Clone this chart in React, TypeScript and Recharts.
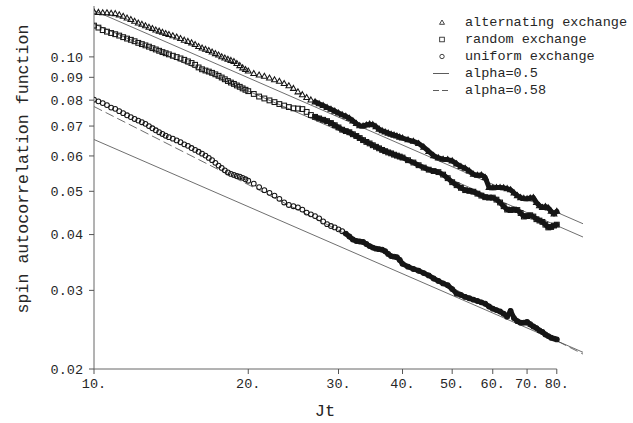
import { ComposedChart, Line, XAxis, YAxis, Legend, ReferenceLine } from 'recharts'

const FONT = '"Liberation Mono", "DejaVu Sans Mono", monospace'
const INK = '#161616'
const FIT = '#4a4a4a'

// Jt sample points (denser at the start so markers sit ~4px apart on the log axis)
const jt = [
  10, 10.2, 10.4, 10.6, 10.8, 11, 11.2, 11.4, 11.6, 11.8, 12, 12.2, 12.4, 12.6, 12.8, 13, 13.2, 13.4, 13.6, 13.8, 14,
  14.25, 14.5, 14.75, 15, 15.25, 15.5, 15.75, 16, 16.25, 16.5, 16.75, 17, 17.25, 17.5, 17.75, 18, 18.25, 18.5, 18.75, 19, 19.25, 19.5, 19.75, 20,
  20.5, 21, 21.5, 22, 22.5, 23, 23.5, 24, 24.5, 25, 25.5, 26, 26.5, 27, 27.5, 28, 28.5, 29, 29.5, 30,
  30.5, 31, 31.5, 32, 32.5, 33, 33.5, 34, 34.5, 35, 35.5, 36, 36.5, 37, 37.5, 38, 38.5, 39, 39.5, 40,
  41, 42, 43, 44, 45, 46, 47, 48, 49, 50,
  51, 52, 53, 54, 55, 56, 57, 58, 59, 60,
  61, 62, 63, 64, 65, 66, 67, 68, 69, 70,
  71, 72, 73, 74, 75, 76, 77, 78, 79, 80,
]

const alternating = [
  0.1260, 0.1258, 0.1256, 0.1255, 0.1252, 0.1250, 0.1242, 0.1233, 0.1222, 0.1213, 0.1202, 0.1191, 0.1183, 0.1174, 0.1165, 0.1158, 0.1149, 0.1142, 0.1135, 0.1128, 0.1122,
  0.1115, 0.1108, 0.1099, 0.1090, 0.1083, 0.1075, 0.1066, 0.1055, 0.1047, 0.1040, 0.1033, 0.1025, 0.1017, 0.1010, 0.1001, 0.0994, 0.0988, 0.0982, 0.0976, 0.0966, 0.0956, 0.0945, 0.0937, 0.0930,
  0.0918, 0.0911, 0.0905, 0.0897, 0.0889, 0.0882, 0.0872, 0.0862, 0.0850, 0.0835, 0.0823, 0.0811, 0.0801, 0.0793, 0.0785, 0.0778, 0.0770, 0.0763, 0.0756, 0.0749,
  0.0742, 0.0736, 0.0729, 0.0719, 0.0709, 0.0701, 0.0700, 0.0704, 0.0707, 0.0705, 0.0698, 0.0689, 0.0683, 0.0679, 0.0675, 0.0671, 0.0668, 0.0665, 0.0661, 0.0658,
  0.0652, 0.0647, 0.0640, 0.0628, 0.0614, 0.0601, 0.0594, 0.0590, 0.0589, 0.0585,
  0.0576, 0.0568, 0.0563, 0.0555, 0.0546, 0.0543, 0.0544, 0.0537, 0.0510, 0.0509,
  0.0510, 0.0510, 0.0509, 0.0507, 0.0504, 0.0496, 0.0489, 0.0484, 0.0482, 0.0481,
  0.0483, 0.0484, 0.0472, 0.0464, 0.0460, 0.0462, 0.0459, 0.0451, 0.0445, 0.0451,
]

const random = [
  0.1175, 0.1163, 0.1148, 0.1139, 0.1131, 0.1124, 0.1116, 0.1107, 0.1099, 0.1092, 0.1084, 0.1075, 0.1068, 0.1061, 0.1054, 0.1046, 0.1039, 0.1032, 0.1025, 0.1019, 0.1013,
  0.1006, 0.0999, 0.0992, 0.0985, 0.0977, 0.0969, 0.0960, 0.0947, 0.0938, 0.0932, 0.0927, 0.0921, 0.0914, 0.0907, 0.0899, 0.0891, 0.0883, 0.0876, 0.0870, 0.0863, 0.0857, 0.0850, 0.0844, 0.0838,
  0.0826, 0.0815, 0.0807, 0.0799, 0.0792, 0.0784, 0.0778, 0.0772, 0.0767, 0.0766, 0.0764, 0.0753, 0.0741, 0.0734, 0.0728, 0.0723, 0.0718, 0.0711, 0.0703, 0.0695,
  0.0687, 0.0682, 0.0678, 0.0671, 0.0665, 0.0658, 0.0651, 0.0645, 0.0640, 0.0634, 0.0629, 0.0624, 0.0619, 0.0615, 0.0611, 0.0608, 0.0604, 0.0601, 0.0598, 0.0595,
  0.0587, 0.0580, 0.0572, 0.0565, 0.0559, 0.0555, 0.0552, 0.0545, 0.0535, 0.0524,
  0.0516, 0.0509, 0.0503, 0.0501, 0.0499, 0.0494, 0.0489, 0.0485, 0.0484, 0.0484,
  0.0479, 0.0472, 0.0463, 0.0455, 0.0454, 0.0455, 0.0454, 0.0447, 0.0439, 0.0440,
  0.0442, 0.0439, 0.0433, 0.0430, 0.0427, 0.0421, 0.0415, 0.0416, 0.0419, 0.0421,
]

const uniform = [
  0.0802, 0.0795, 0.0788, 0.0780, 0.0770, 0.0765, 0.0756, 0.0748, 0.0740, 0.0733, 0.0726, 0.0720, 0.0714, 0.0708, 0.0700, 0.0692, 0.0685, 0.0678, 0.0672, 0.0666, 0.0661,
  0.0656, 0.0650, 0.0644, 0.0637, 0.0632, 0.0625, 0.0619, 0.0613, 0.0607, 0.0601, 0.0594, 0.0587, 0.0579, 0.0571, 0.0564, 0.0557, 0.0551, 0.0547, 0.0544, 0.0541, 0.0539, 0.0536, 0.0532, 0.0528,
  0.0520, 0.0511, 0.0503, 0.0496, 0.0489, 0.0481, 0.0472, 0.0466, 0.0463, 0.0460, 0.0455, 0.0448, 0.0444, 0.0440, 0.0435, 0.0428, 0.0422, 0.0418, 0.0415, 0.0411,
  0.0407, 0.0402, 0.0396, 0.0390, 0.0387, 0.0386, 0.0385, 0.0381, 0.0377, 0.0374, 0.0372, 0.0371, 0.0370, 0.0367, 0.0362, 0.0358, 0.0357, 0.0356, 0.0351, 0.0344,
  0.0339, 0.0335, 0.0332, 0.0328, 0.0324, 0.0319, 0.0315, 0.0311, 0.0308, 0.0302,
  0.0295, 0.0293, 0.0290, 0.0288, 0.0286, 0.0284, 0.0282, 0.0280, 0.0276, 0.0273,
  0.0271, 0.0269, 0.0266, 0.0262, 0.0270, 0.0260, 0.0256, 0.0254, 0.0254, 0.0255,
  0.0252, 0.0249, 0.0247, 0.0244, 0.0242, 0.0239, 0.0237, 0.0235, 0.0234, 0.0233,
]

// power-law fits, straight on log-log so two ends are enough
const fitT = [10, 90]
const fitAlt05 = [0.127, 0.0423]
const fitRandom05 = [0.1186, 0.0395]
const fitUniform05 = [0.0653, 0.0218]
const fitUniform058 = [0.0774, 0.0216]

const xTicks = [10, 20, 30, 40, 50, 60, 70, 80]
const yTicks = [0.02, 0.03, 0.04, 0.05, 0.06, 0.07, 0.08, 0.09, 0.1]

const legendLabels = ['alternating exchange', 'random exchange', 'uniform exchange', 'alpha=0.5', 'alpha=0.58']

// past these Jt the markers pile up into a solid black band
const bandFrom = { alt: 27, rnd: 27, uni: 31 }

type Row = { t: number; [k: string]: number | null }

const rows: Row[] = jt.map((t, i) => ({
  t,
  alt: alternating[i],
  rnd: random[i],
  uni: uniform[i],
  altBand: t >= bandFrom.alt ? alternating[i] : null,
  rndBand: t >= bandFrom.rnd ? random[i] : null,
  uniBand: t >= bandFrom.uni ? uniform[i] : null,
}))

fitT.forEach((t, i) => {
  let row = rows.find((r) => r.t === t)
  if (!row) {
    row = { t }
    rows.push(row)
  }
  row.fitAlt = fitAlt05[i]
  row.fitRnd = fitRandom05[i]
  row.fitUni = fitUniform05[i]
  row.fitUni058 = fitUniform058[i]
})

type DotProps = { cx?: number; cy?: number; value?: number | null; index?: number }

const ok = (p: DotProps) => p.value != null && Number.isFinite(p.cx) && Number.isFinite(p.cy)

function TriangleDot(p: DotProps) {
  if (!ok(p)) return null
  const { cx = 0, cy = 0 } = p
  return (
    <path
      d={`M${cx},${cy - 3}L${cx + 2.9},${cy + 2}L${cx - 2.9},${cy + 2}Z`}
      fill="none"
      stroke={INK}
      strokeWidth={1.05}
    />
  )
}

function SquareDot(p: DotProps) {
  if (!ok(p)) return null
  const { cx = 0, cy = 0 } = p
  return <rect x={cx - 2.4} y={cy - 2.4} width={4.8} height={4.8} fill="none" stroke={INK} strokeWidth={1.05} />
}

function CircleDot(p: DotProps) {
  if (!ok(p)) return null
  const { cx = 0, cy = 0 } = p
  return <circle cx={cx} cy={cy} r={2.4} fill="none" stroke={INK} strokeWidth={1.05} />
}

function LegendBox() {
  return (
    <svg width={205} height={90} style={{ overflow: 'visible' }}>
      {legendLabels.map((label, i) => {
        const y = 9.5 + i * 17
        const sx = 14
        let symbol = null
        if (i === 0) symbol = <path d={`M${sx},${y - 2.5}L${sx + 2.5},${y + 1.8}L${sx - 2.5},${y + 1.8}Z`} fill="none" stroke={INK} strokeWidth={0.8} />
        if (i === 1) symbol = <rect x={sx - 2.3} y={y - 2.3} width={4.6} height={4.6} fill="none" stroke={INK} strokeWidth={0.8} />
        if (i === 2) symbol = <circle cx={sx} cy={y} r={2.2} fill="none" stroke={INK} strokeWidth={0.8} />
        if (i === 3) symbol = <line x1={sx - 9} x2={sx + 7} y1={y} y2={y} stroke={FIT} strokeWidth={0.9} />
        if (i === 4) symbol = <line x1={sx - 9} x2={sx + 7} y1={y} y2={y} stroke={FIT} strokeWidth={0.9} strokeDasharray="6 3" />
        return (
          <g key={label}>
            {symbol}
            <text x={37} y={y} dominantBaseline="central" fontFamily={FONT} fontSize={13.5} fill="#262626">
              {label}
            </text>
          </g>
        )
      })}
    </svg>
  )
}

function YTitle() {
  return (
    <text
      x={23}
      y={169}
      transform="rotate(-90 23 169)"
      textAnchor="middle"
      dominantBaseline="central"
      fontFamily={FONT}
      fontSize={16.6}
      fill="#262626"
    >
      spin autocorrelation function
    </text>
  )
}

function XTitle() {
  return (
    <text x={325} y={411} textAnchor="middle" dominantBaseline="central" fontFamily={FONT} fontSize={17} fill="#262626">
      Jt
    </text>
  )
}

const tickStyle = { fill: '#262626', fontSize: 13.5, fontFamily: FONT }

export default function App() {
  return (
    <div style={{ width: 633, height: 423, background: '#fff' }}>
      <style>{'body{margin:0}'}</style>
      <ComposedChart width={633} height={423} data={rows} margin={{ top: 6, right: 50, bottom: 0, left: 0 }}>
        <XAxis
          dataKey="t"
          type="number"
          scale="log"
          domain={[10, 90]}
          ticks={xTicks}
          interval={0}
          allowDataOverflow
          tickFormatter={(v: number) => `${v}.`}
          tick={tickStyle}
          tickSize={5}
          tickMargin={4}
          tickLine={{ stroke: '#555' }}
          axisLine={false}
          height={54}
          label={<XTitle />}
        />
        <YAxis
          type="number"
          scale="log"
          domain={[0.02, 0.13]}
          ticks={yTicks}
          interval={0}
          allowDataOverflow
          tickFormatter={(v: number) => v.toFixed(2)}
          tick={tickStyle}
          tickSize={5}
          tickMargin={6}
          tickLine={{ stroke: '#555' }}
          axisLine={{ stroke: '#666' }}
          width={94}
          label={<YTitle />}
        />
        <ReferenceLine
          segment={[{ x: 10, y: 0.02 }, { x: 80, y: 0.02 }]}
          stroke="#666"
          ifOverflow="visible"
        />

        <Line dataKey="fitAlt" type="linear" stroke={FIT} strokeWidth={0.8} dot={false} activeDot={false} connectNulls isAnimationActive={false} />
        <Line dataKey="fitRnd" type="linear" stroke={FIT} strokeWidth={0.8} dot={false} activeDot={false} connectNulls isAnimationActive={false} />
        <Line dataKey="fitUni" type="linear" stroke={FIT} strokeWidth={0.8} dot={false} activeDot={false} connectNulls isAnimationActive={false} />
        <Line dataKey="fitUni058" type="linear" stroke={FIT} strokeWidth={0.8} strokeDasharray="9 4" dot={false} activeDot={false} connectNulls isAnimationActive={false} />

        <Line dataKey="alt" stroke="none" dot={(p: DotProps) => <TriangleDot key={`a${p.index}`} {...p} />} activeDot={false} isAnimationActive={false} />
        <Line dataKey="rnd" stroke="none" dot={(p: DotProps) => <SquareDot key={`r${p.index}`} {...p} />} activeDot={false} isAnimationActive={false} />
        <Line dataKey="uni" stroke="none" dot={(p: DotProps) => <CircleDot key={`u${p.index}`} {...p} />} activeDot={false} isAnimationActive={false} />

        <Line dataKey="altBand" type="linear" stroke={INK} strokeWidth={5} strokeLinejoin="round" strokeLinecap="round" dot={false} activeDot={false} isAnimationActive={false} />
        <Line dataKey="rndBand" type="linear" stroke={INK} strokeWidth={5} strokeLinejoin="round" strokeLinecap="round" dot={false} activeDot={false} isAnimationActive={false} />
        <Line dataKey="uniBand" type="linear" stroke={INK} strokeWidth={5} strokeLinejoin="round" strokeLinecap="round" dot={false} activeDot={false} isAnimationActive={false} />

        <Legend
          content={() => <LegendBox />}
          layout="horizontal"
          verticalAlign="middle"
          align="center"
          wrapperStyle={{ top: 13, left: 428, width: 205, height: 90 }}
        />
      </ComposedChart>
    </div>
  )
}
